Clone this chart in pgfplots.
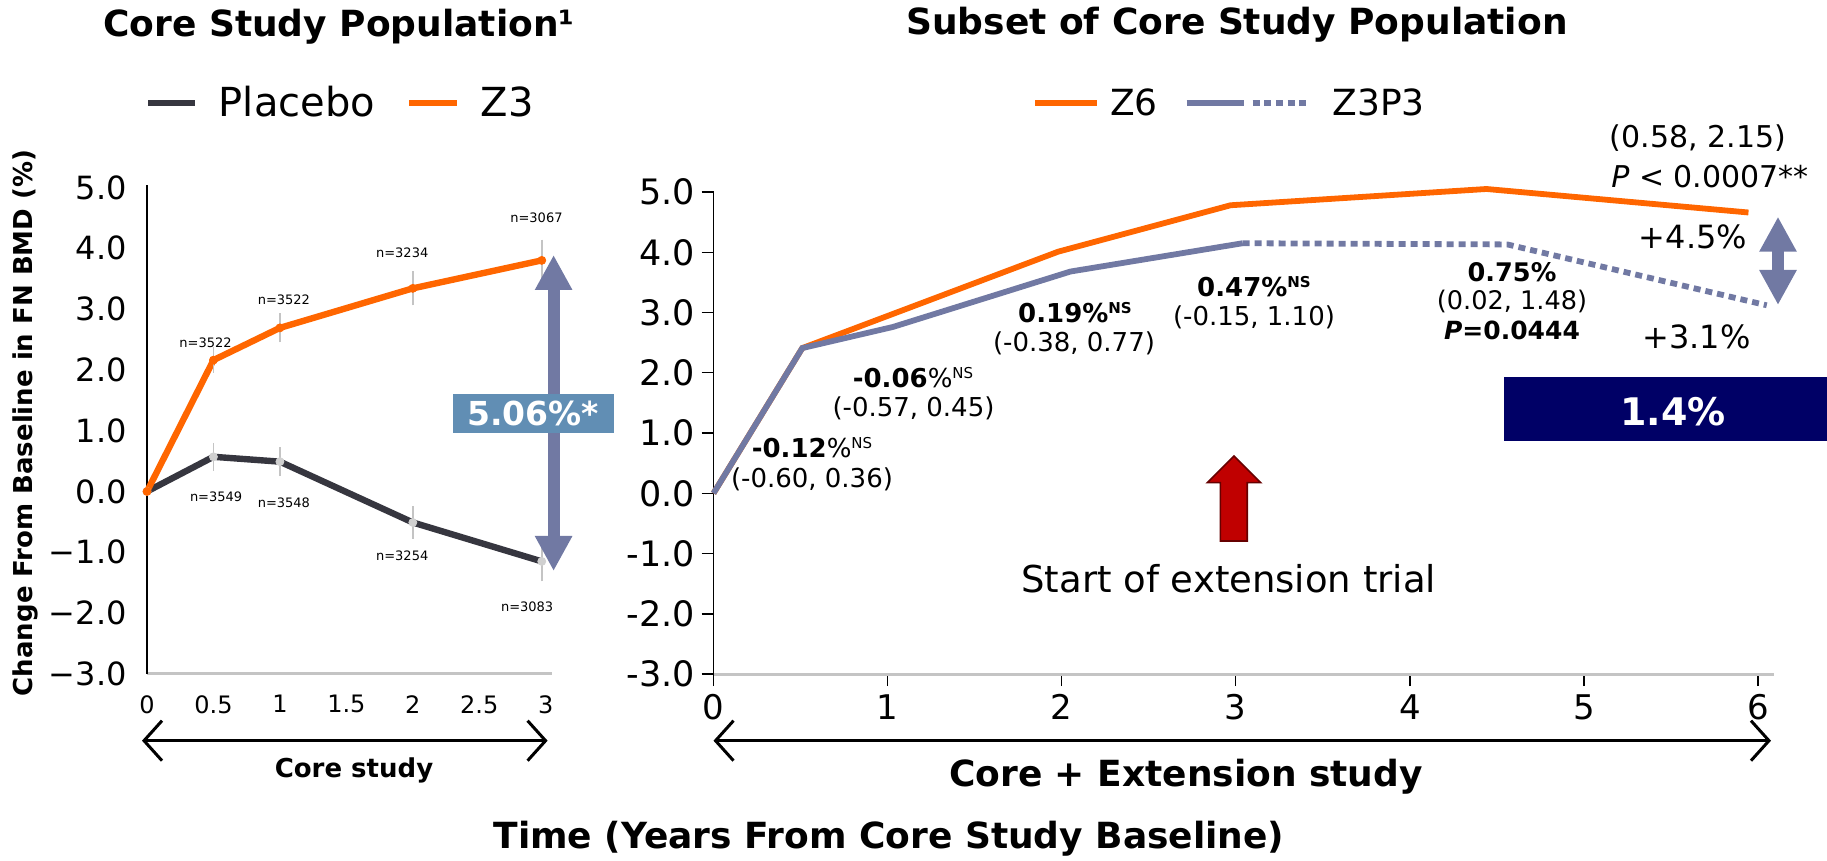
\documentclass[border=0pt]{standalone}
\usepackage{fontspec}
\setmainfont{DejaVu Sans}
\usepackage{pgfplots}
\pgfplotsset{compat=1.18}
\usetikzlibrary{arrows.meta}
\definecolor{zor}{HTML}{FF6600}
\definecolor{plc}{HTML}{36363F}
\definecolor{zbl}{HTML}{7179A3}
\definecolor{arw}{HTML}{7179A3}
\definecolor{sbox}{HTML}{618EB4}
\definecolor{navy}{HTML}{000066}
\definecolor{redar}{HTML}{C00000}
\definecolor{ebar}{HTML}{C4C4C4}
\newcommand\fs[1]{\fontsize{#1pt}{#1pt}\selectfont}
\newcommand\sups[1]{\raisebox{0.62ex}{\fs{7.5}#1}}
\begin{document}
\begin{tikzpicture}
%================ LEFT AXIS =================
\begin{axis}[
  at={(73.5pt,93.55pt)}, anchor=south west,
  scale only axis, width=202.3pt, height=244.45pt,
  xmin=0, xmax=3.044, ymin=-3, ymax=5.04,
  axis x line=bottom, axis y line=left,
  axis line style={-},
  x axis line style={-, draw=ebar, line width=1.5pt},
  y axis line style={-, draw=black, line width=0.8pt},
  xtick={0,0.5,1,1.5,2,2.5,3}, xticklabels={0,0.5,1,1.5,2,2.5,3},
  ytick={-3,-2,-1,0,1,2,3,4,5},
  yticklabels={−3.0,−2.0,−1.0,0.0,1.0,2.0,3.0,4.0,5.0},
  major tick length=0pt,
  xticklabel style={font=\fs{12}, inner sep=0pt, anchor=north, yshift=-10.5pt},
  yticklabel style={font=\fs{16}, inner sep=0pt, anchor=east, xshift=-10pt},
  clip=false,
  legend columns=-1,
  legend cell align=left,
  legend style={at={(0.476,1.168)}, anchor=center, draw=none, fill=none,
    font=\fs{20}, inner sep=0pt, nodes={inner sep=0pt},
    /tikz/every odd column/.append style={column sep=10.25pt},
    /tikz/every even column/.append style={column sep=15.7pt}},
]
\addplot[color=plc, line width=3.2pt, mark=*, mark size=2pt,
  mark options={fill=ebar!80, draw=ebar!80, line width=0.4pt},
  legend image code/.code={\draw[plc, line width=3pt] (0pt,0pt) -- (23.5pt,0pt);},
  error bars/.cd, y dir=both, y explicit,
  error bar style={color=ebar, line width=0.9pt},
  error mark options={color=ebar, mark size=1.2pt, line width=0.9pt}]
  coordinates {(0,0) (0.5,0.57) +- (0,0.19) (1,0.49) +- (0,0.2) (2,-0.51) +- (0,0.23) (2.97,-1.15) +- (0,0.29)};
\addlegendentry{Placebo}
\addplot[color=zor, line width=3.2pt, mark=*, mark size=2pt,
  mark options={fill=zor, draw=zor, line width=0.4pt},
  legend image code/.code={\draw[zor, line width=3pt] (0pt,0pt) -- (24pt,0pt);},
  error bars/.cd, y dir=both, y explicit,
  error bar style={color=ebar, line width=0.9pt},
  error mark options={color=ebar, mark size=1.2pt, line width=0.9pt}]
  coordinates {(0,0) (0.5,2.16) +- (0,0.17) (1,2.69) +- (0,0.2) (2,3.34) +- (0,0.24) (2.97,3.80) +- (0,0.3)};
\addlegendentry{Z3}
\node[font=\fs{6.5}] at (axis cs:0.44,2.44) {n=3522};
\node[font=\fs{6.5}] at (axis cs:1.03,3.15) {n=3522};
\node[font=\fs{6.5}] at (axis cs:1.92,3.93) {n=3234};
\node[font=\fs{6.5}] at (axis cs:2.93,4.50) {n=3067};
\node[font=\fs{6.5}] at (axis cs:0.52,-0.09) {n=3549};
\node[font=\fs{6.5}] at (axis cs:1.03,-0.18) {n=3548};
\node[font=\fs{6.5}] at (axis cs:1.92,-1.05) {n=3254};
\node[font=\fs{6.5}] at (axis cs:2.86,-1.90) {n=3083};
\end{axis}
%================ RIGHT AXIS =================
\begin{axis}[
  at={(356.75pt,93.45pt)}, anchor=south west,
  scale only axis, width=530.1pt, height=241.05pt,
  xmin=0, xmax=6.09, ymin=-3, ymax=5.0,
  axis x line=bottom, axis y line=left,
  axis line style={-},
  x axis line style={-, draw=ebar, line width=1.5pt},
  y axis line style={-, draw=black, line width=0.8pt},
  xtick={0,1,2,3,4,5,6}, xticklabels={0,1,2,3,4,5,6},
  ytick={-3,-2,-1,0,1,2,3,4,5},
  yticklabels={-3.0,-2.0,-1.0,0.0,1.0,2.0,3.0,4.0,5.0},
  tick align=outside, major tick length=6pt,
  tick style={black, line width=0.7pt},
  xticklabel style={font=\fs{17}, inner sep=0pt, anchor=north, yshift=-4pt},
  yticklabel style={font=\fs{17.5}, inner sep=0pt, anchor=east, xshift=-3pt},
  clip=false,
  legend columns=-1,
  legend cell align=left,
  legend style={at={(0.4858,1.184)}, anchor=center, draw=none, fill=none,
    font=\fs{18}, inner sep=0pt, nodes={inner sep=0pt},
    /tikz/column 1/.style={column sep=5pt},
    /tikz/column 2/.style={column sep=13pt},
    /tikz/column 3/.style={column sep=11.65pt}},
]
\addplot[color=zor, line width=2.9pt,
  legend image code/.code={\draw[zor, line width=3pt] (0pt,0pt) -- (30.85pt,0pt);}]
  coordinates {(0,0) (0.51,2.41) (1.98,4.01) (2.97,4.78) (4.44,5.05) (5.945,4.66)};
\addlegendentry{Z6}
\addplot[color=zbl, line width=2.9pt,
  legend image code/.code={\draw[zbl, line width=3pt] (0pt,0pt) -- (28.85pt,0pt);
     \draw[zbl, line width=3pt, dash pattern=on 3.5pt off 2.34pt] (33pt,0pt) -- (59.85pt,0pt);}]
  coordinates {(0,0) (0.51,2.41) (1.03,2.76) (2.05,3.68) (3.04,4.15)};
\addlegendentry{Z3P3}
\addplot[forget plot, color=zbl, line width=2.9pt, dash pattern=on 3.5pt off 2.5pt]
  coordinates {(3.04,4.15) (4.56,4.13) (6.05,3.12)};
\end{axis}
%================ ANNOTATIONS (pixel frame) =================
\begin{scope}[shift={(0pt,430.5pt)}, x=0.5pt, y=-0.5pt]
% titles
\node[font=\bfseries\fs{18}] at (339,26.7) {Core Study Population¹};
\node[font=\bfseries\fs{18}] at (1237,25) {Subset of Core Study Population};
% y label
\node[rotate=90, font=\bfseries\fs{13}] at (25.7,423) {Change From Baseline in FN BMD (\%)};
% left double arrow + box
\draw[arw, line width=6pt, {Triangle[width=17.5pt,length=17.5pt]}-{Triangle[width=17.5pt,length=17.5pt]}] (553.6,255) -- (553.6,571);
\fill[sbox] (453,394) rectangle (614,433);
\node[font=\bfseries\fs{16.5}, text=white] at (533,413.5) {5.06\%*};
% bottom axis texts
\draw[black, line width=1.5pt, {Straight Barb[length=9pt,width=20pt]}-{Straight Barb[length=9pt,width=20pt]}] (142,740.7) -- (547.6,740.7);
\node[font=\bfseries\fs{13}] at (354,770) {Core study};
\draw[black, line width=1.5pt, {Straight Barb[length=9pt,width=20pt]}-{Straight Barb[length=9pt,width=20pt]}] (713.5,740.7) -- (1771,740.7);
\node[font=\bfseries\fs{18}] at (1186,776.7) {Core + Extension study};
\node[font=\bfseries\fs{18}] at (889,838.3) {Time (Years From Core Study Baseline)};
% right annotations
\node[font=\fs{13}] at (812,448) {\textbf{-0.12}\%\sups{NS}};
\node[font=\fs{13}] at (812,479) {(-0.60, 0.36)};
\node[font=\fs{13}] at (913,378) {\textbf{-0.06}\%\sups{NS}};
\node[font=\fs{13}] at (913.5,408) {(-0.57, 0.45)};
\node[font=\fs{13}] at (1075,313) {\textbf{0.19\%\sups{NS}}};
\node[font=\fs{13}] at (1074,343) {(-0.38, 0.77)};
\node[font=\fs{13}] at (1254,287) {\textbf{0.47\%\sups{NS}}};
\node[font=\fs{13}] at (1254,317) {(-0.15, 1.10)};
\node[font=\bfseries\fs{12.8}] at (1512,271.7) {0.75\%};
\node[font=\fs{12.8}] at (1512,301.7) {(0.02, 1.48)};
\node[font=\bfseries\fs{12.5}] at (1512,330) {\textit{P}=0.0444};
\node[font=\fs{15}] at (1698,138.3) {(0.58, 2.15)};
\node[font=\fs{15}] at (1710,176.7) {\textit{P} < 0.0007**};
\node[font=\fs{16}] at (1693,236.7) {+4.5\%};
\node[font=\fs{16}] at (1696.5,337) {+3.1\%};
\draw[arw, line width=6pt, {Triangle[width=17.5pt,length=17.5pt]}-{Triangle[width=17.5pt,length=17.5pt]}] (1778,216.7) -- (1778,305);
\fill[navy] (1504,376.7) rectangle (1827,440.7);
\node[font=\bfseries\fs{19}, text=white] at (1673,411.7) {1.4\%};
% red arrow
\filldraw[fill=redar, draw=red!40!black, line width=0.8pt] (1234,456) -- (1260.6,482.7) -- (1247.2,482.7) -- (1247.2,541) -- (1220.4,541) -- (1220.4,482.7) -- (1207.4,482.7) -- cycle;
\node[font=\fs{18.5}] at (1228.7,578.3) {Start of extension trial};
\end{scope}
\pgfresetboundingbox
\useasboundingbox (0pt,0pt) rectangle (913.5pt,430.5pt);
\end{tikzpicture}
\end{document}
